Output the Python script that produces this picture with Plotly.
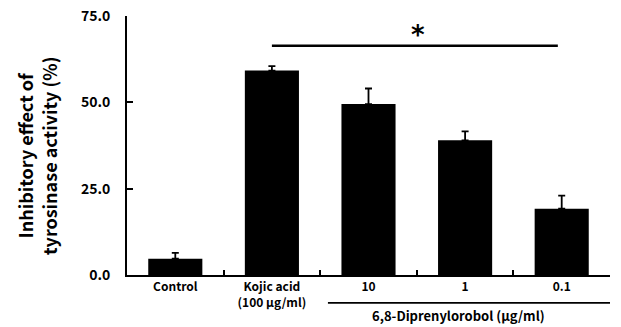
import plotly.graph_objects as go

categories = ["Control", "Kojic acid<br>(100 μg/ml)", "10", "1", "0.1"]
values = [4.7, 59.2, 49.5, 39.0, 19.2]
errors = [1.7, 1.3, 4.5, 2.6, 3.8]
y_ticks = [0, 25, 50, 75]
y_tick_labels = ["0.0", "25.0", "50.0", "75.0"]

FONT = "Noto Sans CJK KR"

fig = go.Figure()
fig.add_trace(go.Bar(
    x=list(range(len(categories))),
    y=values,
    width=0.56,
    marker=dict(color="black", line=dict(width=0)),
    error_y=dict(type="data", symmetric=False, array=errors,
                 arrayminus=[0] * len(errors), color="black",
                 thickness=1.8, width=3.5),
))

# significance bracket
fig.add_shape(type="line", xref="x", yref="y", x0=1.0, x1=3.96, y0=66.4, y1=66.4,
              line=dict(color="black", width=2.5))
fig.add_annotation(x=2.51, y=66.4, xref="x", yref="y", text="<b>*</b>",
                   showarrow=False, yanchor="middle", xanchor="center", yshift=11,
                   font=dict(size=26, color="black", family="DejaVu Sans"))

# compound underline and label
fig.add_shape(type="line", xref="x", yref="paper", x0=1.58, x1=4.5, y0=-0.108, y1=-0.108,
              line=dict(color="black", width=1.8))
fig.add_annotation(x=2.93, y=-0.158, xref="x", yref="paper",
                   text="<b>6,8-Diprenylorobol (μg/ml)</b>", showarrow=False,
                   yanchor="middle", xanchor="center", borderpad=0,
                   font=dict(size=13, color="black", family=FONT))

# y title
fig.add_annotation(x=-0.186, y=0.46, xref="paper", yref="paper",
                   text="<b>Inhibitory effect of<br>tyrosinase activity (%)</b>",
                   textangle=-90, showarrow=False, align="center",
                   xanchor="center", yanchor="middle",
                   font=dict(size=18, color="black", family=FONT))

fig.update_layout(
    width=621, height=327,
    margin=dict(l=127, r=11, t=16, b=52),
    plot_bgcolor="white", paper_bgcolor="white",
    showlegend=False,
    font=dict(family=FONT, color="black"),
)
fig.update_xaxes(
    range=[-0.5, 4.5], automargin=False,
    tickmode="array",
    tickvals=list(range(len(categories))),
    ticktext=["<b>%s</b>" % c for c in categories],
    ticks="", showline=True, linecolor="black", linewidth=1.8,
    tickfont=dict(size=12, family=FONT, color="black"),
    showgrid=False, zeroline=False,
)
# boundary ticks on overlay axis
fig.update_layout(xaxis2=dict(
    overlaying="x", anchor="y", side="bottom", range=[-0.5, 4.5], automargin=False,
    tickmode="array", tickvals=[0.5, 1.5, 2.5, 3.5], showticklabels=False,
    ticks="inside", ticklen=5, tickwidth=1.5, tickcolor="black",
    showline=False, showgrid=False, zeroline=False,
))
fig.add_trace(go.Scatter(x=[None], y=[None], xaxis="x2", showlegend=False))
fig.update_yaxes(
    range=[0, 75], automargin=False,
    tickmode="array", tickvals=y_ticks,
    ticktext=["<b>%s</b>" % t for t in y_tick_labels],
    ticks="inside", ticklen=6, tickwidth=1.5, tickcolor="black",
    showline=True, linecolor="black", linewidth=1.8,
    tickfont=dict(size=14, family=FONT, color="black"),
    ticklabelstandoff=12,
    showgrid=False, zeroline=False,
)

fig.write_html("out.html", config={"displayModeBar": False},
               post_script="document.body.style.margin='0';")
